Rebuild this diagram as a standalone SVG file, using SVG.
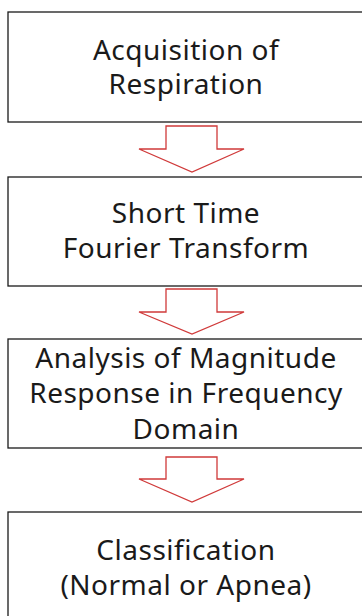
<svg xmlns="http://www.w3.org/2000/svg" width="362" height="616" viewBox="0 0 362 616">
<style>
.box{fill:#fff;stroke:#1a1a1a;stroke-width:1.3}
.arr{fill:#fff;stroke:#d03a3a;stroke-width:1.3;stroke-linejoin:miter}
text{font-family:"Noto Sans","Open Sans",sans-serif;font-size:28px;letter-spacing:0.5px;fill:#1a1a1a;text-anchor:middle}
</style>
<rect width="362" height="616" fill="#fff"/>
<g id="n1"><rect class="box" x="8" y="12" width="360" height="110"/>
<text x="186" y="60">Acquisition of</text><text x="186" y="94">Respiration</text></g>
<g id="n2"><rect class="box" x="8" y="177" width="360" height="109"/>
<text x="186" y="223">Short Time</text><text x="186" y="258">Fourier Transform</text></g>
<g id="n3"><rect class="box" x="8" y="339" width="360" height="109"/>
<text x="186" y="368">Analysis of Magnitude</text><text x="186" y="403">Response in Frequency</text><text x="186" y="439">Domain</text></g>
<g id="n4"><rect class="box" x="8" y="512" width="360" height="120"/>
<text x="186" y="560">Classification</text><text x="186" y="595">(Normal or Apnea)</text></g>
<g id="connectors">
<path class="arr" d="M166,126 H217 V149 H244 L192,172 L139,149 H166 Z"/>
<path class="arr" d="M166,289 H217 V312 H244 L192,334 L139,312 H166 Z"/>
<path class="arr" d="M166,457 H217 V479 H244 L192,502 L139,479 H166 Z"/>
</g>
</svg>
